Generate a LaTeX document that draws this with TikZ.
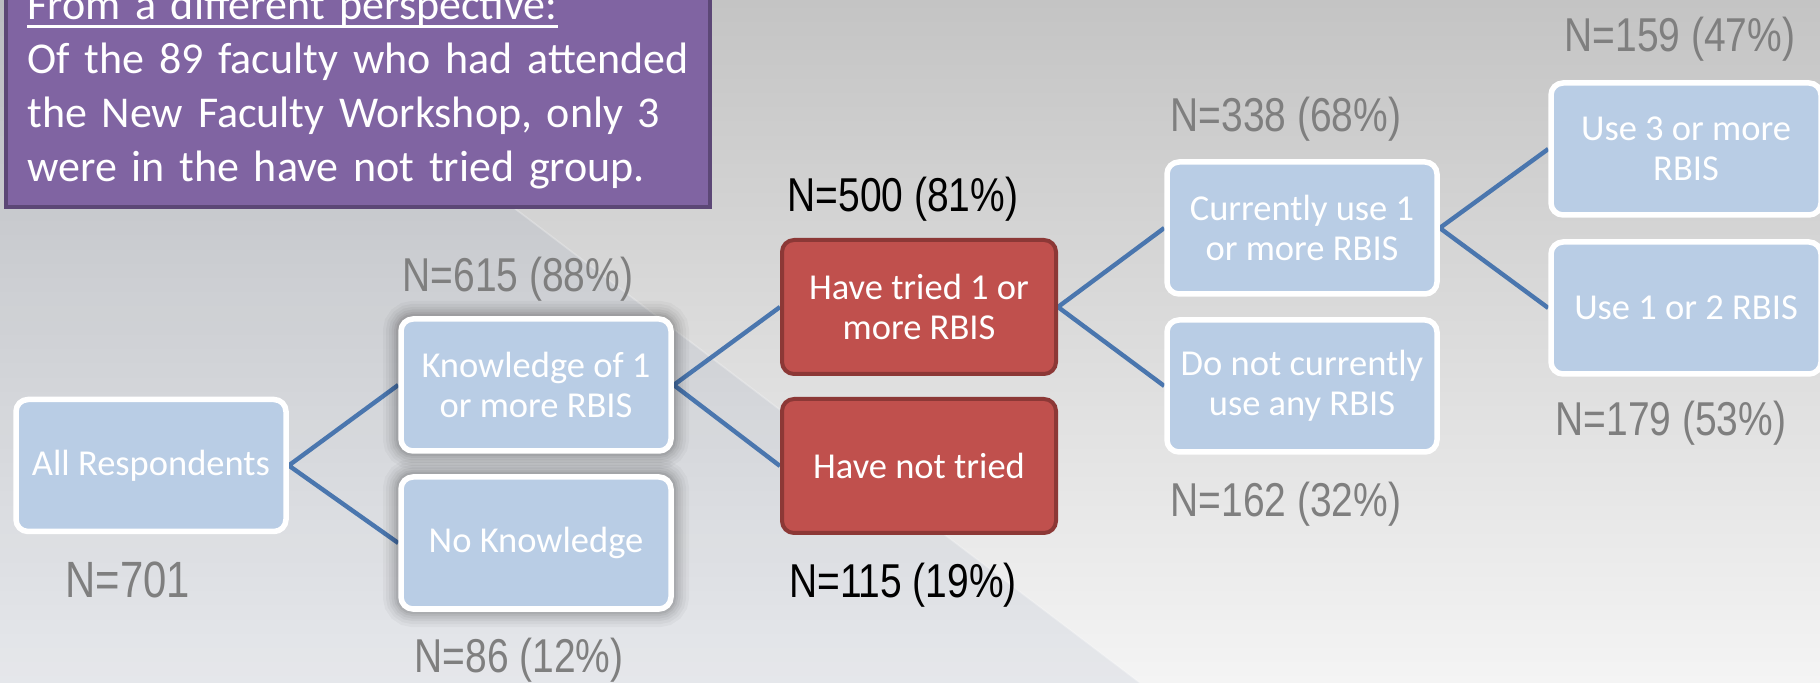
\documentclass[tikz,border=0pt]{standalone}
\usepackage{fontspec}
\setmainfont{Carlito}
\newfontfamily\notefont[WordSpace=0.72]{Carlito}
\newfontfamily\narrowfont[FakeStretch=0.82]{Liberation Sans}
\pgfdeclarelayer{bg}
\pgfdeclarelayer{edges}
\pgfsetlayers{bg,edges,main}
\definecolor{boxblue}{HTML}{B9CDE5}
\definecolor{boxedge}{HTML}{FFFFFF}
\definecolor{boxred}{HTML}{C0504D}
\definecolor{redline}{HTML}{8C3836}
\definecolor{boxpurple}{HTML}{8064A2}
\definecolor{purpleline}{HTML}{5C4776}
\definecolor{linkblue}{HTML}{4A76AE}
\definecolor{labelgray}{HTML}{7F7F7F}
\definecolor{bgtop}{HTML}{C4C4C4}
\definecolor{bgbot}{HTML}{F4F4F4}
\definecolor{tint}{HTML}{8090B0}
\definecolor{shadowcol}{HTML}{000000}
\newsavebox\ulbox
\newcommand\myul[1]{\sbox\ulbox{#1}\rlap{\vrule width \wd\ulbox height -2.75pt depth 4.25pt}\usebox\ulbox}
\tikzset{
 bluebox/.style={draw=boxedge, line width=2.75pt, fill=boxblue, rounded corners=6pt,
   minimum width=135pt, minimum height=66pt, inner sep=2pt, align=center,
   text=boxedge, font=\fontsize{18.25}{20}\selectfont},
 redbox/.style={bluebox, draw=redline, line width=2pt, fill=boxred,
   minimum width=137pt, minimum height=67pt},
 shadowed/.style={
   preaction={draw=shadowcol, draw opacity=0.03, line width=18pt},
   preaction={draw=shadowcol, draw opacity=0.035, line width=15pt},
   preaction={draw=shadowcol, draw opacity=0.04, line width=12pt},
   preaction={draw=shadowcol, draw opacity=0.045, line width=9.5pt},
   preaction={draw=shadowcol, draw opacity=0.05, line width=7pt},
   preaction={draw=shadowcol, draw opacity=0.06, line width=5pt}},
 countlabel/.style={anchor=base, text=labelgray, inner sep=0pt,
   font=\narrowfont\fontsize{23.75}{26}\selectfont},
 link/.style={draw=linkblue, line width=2.2pt, line join=miter},
 notebox/.style={draw=purpleline, line width=2pt, fill=boxpurple, outer sep=0pt,
   minimum width=352pt, minimum height=125pt, anchor=south west, inner sep=0pt},
 notetext/.style={anchor=base west, align=left, text width=345pt, inner sep=0pt,
   text=boxedge, font=\notefont\fontsize{22}{27}\selectfont},
}
\begin{document}
\begin{tikzpicture}[x=0.5pt,y=-0.5pt]
\useasboundingbox (0,0) rectangle (1820,683);
\clip (0,0) rectangle (1820,683);
\begin{pgfonlayer}{bg}
\shade[top color=bgtop, bottom color=bgbot] (0,0) rectangle (1820,683);
\fill[tint, opacity=0.12] (0,0) -- (240,0) -- (1140,683) -- (0,683) -- cycle;
\draw[boxedge, opacity=0.25, line width=0.8pt] (240,0) -- (1140,683);
\end{pgfonlayer}

% note box
\node[notebox] (note) at (6,207) {};
\node[notetext] (notetxt) at (27,20) {\myul{From a different perspective:}\\Of the 89 faculty who had attended\\the New Faculty Workshop, only 3\\were in the have not tried group.};

% tree boxes
\node[bluebox] (all) at (151,465.5) {All Respondents};
\node[bluebox, shadowed] (know) at (536,385) {Knowledge of 1\\or more RBIS};
\node[bluebox, shadowed] (noknow) at (536,543) {No Knowledge};
\node[redbox] (tried) at (919,307) {Have tried 1 or\\more RBIS};
\node[redbox] (nottried) at (919,466) {Have not tried};
\node[bluebox] (cur) at (1302,228) {Currently use 1\\or more RBIS};
\node[bluebox] (notcur) at (1302,386) {Do not currently\\use any RBIS};
\node[bluebox] (three) at (1686,149) {Use 3 or more\\RBIS};
\node[bluebox] (onetwo) at (1686,308) {Use 1 or 2 RBIS};

% count labels
\node[countlabel, font=\narrowfont\fontsize{25.5}{28}\selectfont] (l701) at (128,597) {N=701};
\node[countlabel] (l615) at (518,292) {N=615 (88\%)};
\node[countlabel] (l86) at (519,672) {N=86 (12\%)};
\node[countlabel, text=black] (l500) at (903,212) {N=500 (81\%)};
\node[countlabel, text=black] (l115) at (903,597) {N=115 (19\%)};
\node[countlabel] (l338) at (1286,132) {N=338 (68\%)};
\node[countlabel] (l162) at (1286,517) {N=162 (32\%)};
\node[countlabel] (l159) at (1680,52) {N=159 (47\%)};
\node[countlabel] (l179) at (1671,436) {N=179 (53\%)};

% connectors
\begin{pgfonlayer}{edges}
\draw[link] (know.west) -- (all.east) -- (noknow.west);
\draw[link] (tried.west) -- (know.east) -- (nottried.west);
\draw[link] (cur.west) -- (tried.east) -- (notcur.west);
\draw[link] (three.west) -- (cur.east) -- (onetwo.west);
\end{pgfonlayer}
\end{tikzpicture}
\end{document}
